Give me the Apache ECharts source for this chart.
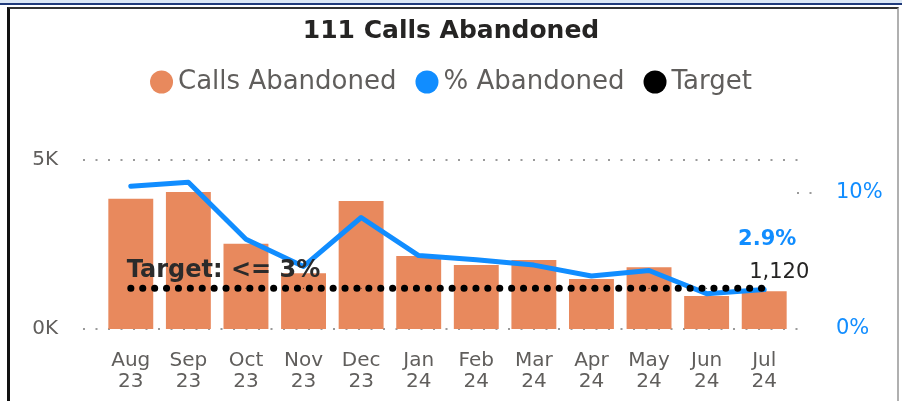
<!DOCTYPE html>
<html><head><meta charset="utf-8">
<script src="https://cdn.jsdelivr.net/npm/echarts@6/dist/echarts.min.js"></script>
<style>
html,body{margin:0;padding:0;background:#fff;}
#wrap{position:relative;width:902px;height:401px;overflow:hidden;background:#fff;}
#topband{position:absolute;left:0;top:0;width:902px;height:3px;background:#dce8f6;border-bottom:2px solid #1f3a7a;}
#card{position:absolute;left:7px;top:7px;width:892px;height:400px;border-left:3px solid #111;border-top:2px solid #333;border-right:2px solid #b0b0b0;box-sizing:border-box;}
#chart{position:absolute;left:0;top:0;width:902px;height:401px;}
</style></head>
<body><div id="wrap"><div id="topband"></div><div id="card"></div><div id="chart"></div></div>
<script>
const categories = ["Aug\n23","Sep\n23","Oct\n23","Nov\n23","Dec\n23","Jan\n24","Feb\n24","Mar\n24","Apr\n24","May\n24","Jun\n24","Jul\n24"];
const callsAbandoned = [3850, 4050, 2520, 1650, 3790, 2160, 1890, 2040, 1480, 1830, 980, 1120];
const pctAbandoned = [10.5, 10.8, 6.6, 4.6, 8.2, 5.4, 5.1, 4.7, 3.9, 4.3, 2.6, 2.9];
const target = [3, 3, 3, 3, 3, 3, 3, 3, 3, 3, 3, 3];
const leftTicks = [0, 5000];
const rightTicks = [0, 10];

const chart = echarts.init(document.getElementById('chart'));
const FONT = '"DejaVu Sans", sans-serif';
const gray = '#605E5C';
const blue = '#118DFF';
const orange = '#E8895D';
const rightMax = 12.43;
const last = callsAbandoned.length - 1;

chart.setOption({
  animation: false,
  title: {
    text: '111 Calls Abandoned', left: 'center', top: 14,
    textStyle: {fontFamily: FONT, fontWeight: 'bold', fontSize: 25, color: '#252423'}
  },
  legend: {
    top: 64, left: 'center', icon: 'circle', itemWidth: 23, itemHeight: 23, itemGap: 19,
    textStyle: {fontFamily: FONT, fontSize: 26, color: gray},
    data: ['Calls Abandoned', '% Abandoned', 'Target']
  },
  grid: [
    {left: 83, right: 94, top: 160, bottom: 72},
    {left: 102, right: 109, top: 160, bottom: 72}
  ],
  xAxis: [
    {type: 'category', gridIndex: 0, data: categories, show: false},
    {type: 'category', gridIndex: 1, data: categories,
     axisLine: {show: false}, axisTick: {show: false},
     axisLabel: {margin: 21, fontFamily: FONT, fontSize: 20, lineHeight: 21, color: gray, interval: 0}}
  ],
  yAxis: [
    {type: 'value', gridIndex: 0, min: leftTicks[0], max: leftTicks[1], interval: leftTicks[1] - leftTicks[0],
     axisLine: {show: false}, axisTick: {show: false},
     splitLine: {show: true, lineStyle: {color: '#9a9a9a', type: [2, 10.5], width: 2}},
     axisLabel: {margin: 25, fontFamily: FONT, fontSize: 20, color: gray, formatter: v => (v / 1000) + 'K'}},
    {type: 'value', gridIndex: 0, position: 'right', min: rightTicks[0], max: rightMax, interval: rightTicks[1] - rightTicks[0],
     axisLine: {show: false}, axisTick: {show: false}, splitLine: {show: false},
     axisLabel: {margin: 28, fontFamily: FONT, fontSize: 21, color: blue, showMaxLabel: false, formatter: v => v + '%'}},
    {type: 'value', gridIndex: 1, min: leftTicks[0], max: leftTicks[1], show: false},
    {type: 'value', gridIndex: 1, min: 0, max: rightMax, show: false}
  ],
  series: [
    {name: 'Calls Abandoned', type: 'bar', xAxisIndex: 1, yAxisIndex: 2, data: callsAbandoned.map((v, i) => ({
        value: v,
        label: i === last ? {show: true, position: 'top', offset: [15, -3], fontFamily: FONT, fontSize: 21, color: '#252423', formatter: p => p.value.toLocaleString('en-US')} : {show: false}
      })),
     barWidth: '78%', itemStyle: {color: orange}, z: 2},
    {name: '% Abandoned', type: 'line', xAxisIndex: 1, yAxisIndex: 3, data: pctAbandoned.map((v, i) => ({
        value: v,
        label: i === last ? {show: true, position: 'top', offset: [3, -34], fontFamily: FONT, fontSize: 21, fontWeight: 'bold', color: blue, formatter: p => p.value.toFixed(1) + '%'} : {show: false}
      })),
     symbol: 'circle', symbolSize: 1, showSymbol: true, itemStyle: {color: blue}, lineStyle: {color: blue, width: 5, join: 'round', cap: 'round'}, z: 3},
    {name: 'Target', type: 'line', xAxisIndex: 1, yAxisIndex: 3, data: target.map((v, i) => ({
        value: v,
        label: i === 0 ? {show: true, position: 'top', align: 'left', offset: [-4, 0], fontFamily: FONT, fontSize: 24, fontWeight: 'bold', color: '#2b2b2b', formatter: () => 'Target: <= ' + v + '%'} : {show: false}
      })),
     symbol: 'circle', symbolSize: 1, showSymbol: true, itemStyle: {color: '#000'}, lineStyle: {color: '#000', width: 7, type: [0.1, 11.8], cap: 'round'}, z: 4}
  ]
});

// short visible stub of the right-axis 10% gridline
const y10 = chart.convertToPixel({yAxisIndex: 1}, rightTicks[1]);
chart.setOption({graphic: [{type: 'line', shape: {x1: 797, y1: y10, x2: 812, y2: y10},
  style: {stroke: '#9a9a9a', lineWidth: 2, lineDash: [2, 10.5]}, silent: true}]});
</script></body></html>
